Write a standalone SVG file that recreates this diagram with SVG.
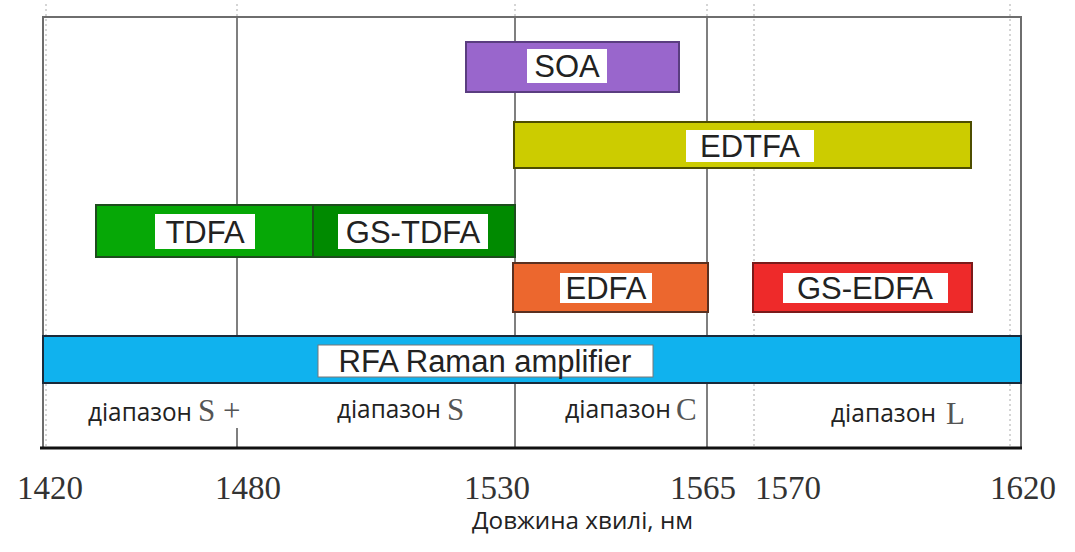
<svg xmlns="http://www.w3.org/2000/svg" width="1075" height="552" viewBox="0 0 1075 552">
  <style>
    .frame { stroke: #6e6e6e; stroke-width: 2; fill: none; }
    .grid { stroke: #555; stroke-width: 1.5; }
    .dot { stroke: #c8c8c8; stroke-width: 1.5; stroke-dasharray: 2 3; }
    .axis { stroke: #111; stroke-width: 3; }
    .bar { stroke-width: 2; }
    .lbl { fill: #ffffff; }
    .lt { font-family: "Liberation Sans", Arial, sans-serif; font-size: 31px; fill: #222; text-anchor: middle; }
    .band { font-family: "Open Sans", "Noto Sans", sans-serif; font-size: 25px; fill: #222; }
    .bandl { font-family: "Liberation Serif", "Times New Roman", serif; font-size: 31px; fill: #555; }
    .num { font-family: "Liberation Serif", "Times New Roman", serif; font-size: 33px; fill: #333; }
    .cap { font-family: "Open Sans", "Noto Sans", sans-serif; font-size: 24px; fill: #222; }
  </style>

  <rect width="1075" height="552" fill="#ffffff"/>

  <!-- grid and frame -->
  <g id="grid">
    <line class="dot" x1="46" y1="4" x2="46" y2="448"/>
    <line class="dot" x1="754" y1="4" x2="754" y2="448"/>
    <line class="dot" x1="1010" y1="4" x2="1010" y2="448"/>
    <line class="dot" x1="237" y1="4" x2="237" y2="17"/>
    <line class="dot" x1="515" y1="4" x2="515" y2="17"/>
    <line class="dot" x1="707" y1="4" x2="707" y2="17"/>
    <line class="grid" x1="237" y1="17" x2="237" y2="336"/>
    <line class="grid" x1="237" y1="428" x2="237" y2="448"/>
    <line class="grid" x1="515" y1="17" x2="515" y2="448"/>
    <line class="grid" x1="707" y1="17" x2="707" y2="448"/>
    <polyline class="frame" points="43,448 43,17 1021,17 1021,448"/>
  </g>

  <!-- amplifier bands -->
  <g id="soa">
    <rect class="bar" x="466" y="42" width="213" height="50" fill="#9966cc" stroke="#5a3d80"/>
    <rect class="lbl" x="527" y="49" width="80" height="34"/>
    <text class="lt" x="567" y="77">SOA</text>
  </g>
  <g id="edtfa">
    <rect class="bar" x="514" y="122" width="457" height="46" fill="#cccc00" stroke="#4d4d00"/>
    <rect class="lbl" x="686" y="130" width="128" height="32"/>
    <text class="lt" x="750" y="157">EDTFA</text>
  </g>
  <g id="tdfa">
    <rect class="bar" x="96" y="205" width="217" height="52" fill="#06a806" stroke="#1d4d1d"/>
    <rect class="lbl" x="155" y="214" width="100" height="35"/>
    <text class="lt" x="205" y="243">TDFA</text>
  </g>
  <g id="gs-tdfa">
    <rect class="bar" x="313" y="205" width="202" height="52" fill="#008a00" stroke="#1d4d1d"/>
    <rect class="lbl" x="338" y="214" width="150" height="35"/>
    <text class="lt" x="413" y="243">GS-TDFA</text>
  </g>
  <g id="edfa">
    <rect class="bar" x="513" y="263" width="195" height="49" fill="#ec672e" stroke="#5a3020"/>
    <rect class="lbl" x="560" y="273" width="92" height="30"/>
    <text class="lt" x="606" y="299">EDFA</text>
  </g>
  <g id="gs-edfa">
    <rect class="bar" x="753" y="263" width="219" height="49" fill="#ee2a2a" stroke="#7a1a1a"/>
    <rect class="lbl" x="783" y="273" width="165" height="30"/>
    <text class="lt" x="865" y="299">GS-EDFA</text>
  </g>
  <g id="rfa">
    <rect class="bar" x="43" y="336" width="978" height="47" fill="#10b2ee" stroke="#1a2a3a" stroke-width="2.5"/>
    <rect class="lbl" x="318" y="345" width="335" height="32" stroke="#777" stroke-width="1"/>
    <text class="lt" x="485" y="372">RFA Raman amplifier</text>
  </g>

  <!-- spectral band names -->
  <g id="bands">
    <text class="band" x="88" y="421" textLength="104" lengthAdjust="spacingAndGlyphs">діапазон</text>
    <text class="bandl" x="198" y="421">S</text>
    <text class="bandl" x="223" y="421">+</text>
    <text class="band" x="337" y="418" textLength="104" lengthAdjust="spacingAndGlyphs">діапазон</text>
    <text class="bandl" x="447" y="420">S</text>
    <text class="band" x="565" y="418" textLength="106" lengthAdjust="spacingAndGlyphs">діапазон</text>
    <text class="bandl" x="676" y="420">C</text>
    <text class="band" x="831" y="422" textLength="105" lengthAdjust="spacingAndGlyphs">діапазон</text>
    <text class="bandl" x="946" y="424">L</text>
  </g>

  <!-- wavelength axis -->
  <g id="axis">
    <line class="axis" x1="40" y1="448" x2="1022" y2="448"/>
    <text class="num" x="17" y="499">1420</text>
    <text class="num" x="215" y="499">1480</text>
    <text class="num" x="464" y="499">1530</text>
    <text class="num" x="670" y="499">1565</text>
    <text class="num" x="755" y="499">1570</text>
    <text class="num" x="990" y="499">1620</text>
    <text class="cap" x="472" y="529" textLength="221" lengthAdjust="spacingAndGlyphs">Довжина хвилі, нм</text>
  </g>
</svg>
